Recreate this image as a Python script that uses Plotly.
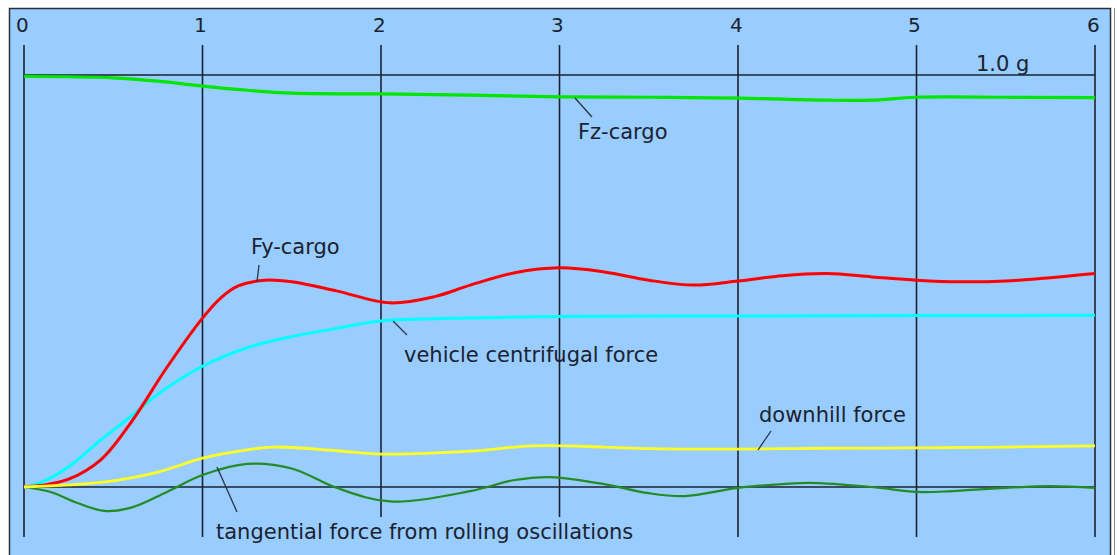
import plotly.graph_objects as go

# ---- data -------------------------------------------------------------
# time axis labels
tick_vals = [0, 1, 2, 3, 4, 5, 6]
tick_labels = ["0", "1", "2", "3", "4", "5", "6"]

# vertical cargo force Fz (g)
t_fz = [0, 0.5, 0.75, 1.0, 1.25, 1.5, 2.0, 2.5, 3.0, 3.5, 4.0, 4.5, 4.75, 5.0, 5.5, 6.0]
fz = [0.997, 0.993, 0.985, 0.973, 0.963, 0.956, 0.954, 0.951, 0.947, 0.946, 0.944,
      0.939, 0.939, 0.946, 0.946, 0.945]

# lateral cargo force Fy (g)
t_fy = [0, 0.1, 0.25, 0.43, 0.6, 0.8, 1.0, 1.1, 1.2, 1.35, 1.5, 1.75, 2.05, 2.3, 2.5,
        2.75, 3.0, 3.25, 3.5, 3.75, 4.0, 4.25, 4.5, 4.75, 5.0, 5.25, 5.5, 5.75, 6.0]
fy = [0, 0.004, 0.019, 0.066, 0.157, 0.29, 0.41, 0.458, 0.488, 0.502, 0.498, 0.476,
      0.447, 0.462, 0.49, 0.52, 0.532, 0.522, 0.502, 0.49, 0.5, 0.513, 0.518, 0.51,
      0.502, 0.498, 0.5, 0.508, 0.518]

# vehicle centrifugal force (g)
t_cf = [0, 0.1, 0.25, 0.43, 0.58, 0.75, 1.0, 1.25, 1.5, 1.75, 2.0, 2.5, 3.0, 4.0, 5.0, 6.0]
cf = [0, 0.012, 0.049, 0.114, 0.165, 0.225, 0.293, 0.338, 0.365, 0.385, 0.403, 0.41,
      0.414, 0.415, 0.416, 0.417]

# downhill force (g)
t_dh = [0, 0.25, 0.5, 0.75, 1.0, 1.25, 1.4, 1.75, 2.0, 2.5, 2.85, 3.25, 3.5, 4.0, 4.5,
        5.0, 5.5, 6.0]
dh = [0, 0.005, 0.015, 0.036, 0.07, 0.09, 0.097, 0.088, 0.08, 0.087, 0.1, 0.097, 0.093,
      0.092, 0.094, 0.095, 0.097, 0.1]

# tangential force from rolling oscillations (g)
t_tg = [0, 0.15, 0.3, 0.45, 0.6, 0.8, 1.0, 1.25, 1.5, 1.75, 2.05, 2.5, 2.75, 2.95, 3.25,
        3.5, 3.7, 4.0, 4.25, 4.4, 4.75, 5.0, 5.2, 5.5, 5.75, 6.0]
tg = [0, -0.012, -0.039, -0.058, -0.05, -0.012, 0.029, 0.056, 0.045, -0.002, -0.035,
      -0.01, 0.017, 0.024, 0.007, -0.015, -0.022, -0.002, 0.007, 0.01, 0, -0.012, -0.01,
      -0.002, 0.002, -0.002]

# ---- layout geometry (pixels) -----------------------------------------
W, H = 1117, 555
X0_PX, X_PER = 24.0, 178.5      # pixel of t=0, pixels per second
Y0_PX, Y_PER = 487.0, 412.0     # pixel of 0 g, pixels per g


def tx(px):
    return (px - X0_PX) / X_PER


def gy(py):
    return (Y0_PX - py) / Y_PER


BG = "#99CCFF"
INK = "#1b2230"
FONT = "DejaVu Sans"

fig = go.Figure()

series = [
    (t_fz, fz, "#00E600", 3.2, "Fz-cargo"),
    (t_cf, cf, "#00FFFF", 3.0, "vehicle centrifugal force"),
    (t_fy, fy, "#FF0000", 3.0, "Fy-cargo"),
    (t_tg, tg, "#228B22", 2.2, "tangential force"),
    (t_dh, dh, "#FFFF22", 2.8, "downhill force"),
]
for xs, ys, col, w, name in series:
    fig.add_trace(go.Scatter(x=xs, y=ys, mode="lines", name=name,
                             line=dict(color=col, width=w, shape="spline", smoothing=1.0),
                             hoverinfo="skip"))

shapes = []
# blue panel with frame
shapes.append(dict(type="rect", xref="paper", yref="paper", layer="below",
                   x0=9.5 / W, x1=1110.5 / W, y0=1 - 560 / H, y1=1 - 8.5 / H,
                   fillcolor=BG, line=dict(color="#2a2f38", width=1.5)))
shapes.append(dict(type="line", xref="paper", yref="paper", layer="below",
                   x0=1114.5 / W, x1=1114.5 / W, y0=1 - 8 / H, y1=0,
                   line=dict(color="#8a8f96", width=1)))

# vertical time lines (2 s and 3 s stop above the bottom caption)
for t in tick_vals:
    bottom = gy(517) if t in (2, 3) else gy(537)
    shapes.append(dict(type="line", xref="x", yref="y", layer="below",
                       x0=t, x1=t, y0=bottom, y1=gy(45),
                       line=dict(color=INK, width=1.6)))
# reference lines at 0 g and 1.0 g
for g in (0.0, 1.0):
    shapes.append(dict(type="line", xref="x", yref="y", layer="below",
                       x0=tick_vals[0], x1=tick_vals[-1], y0=g, y1=g,
                       line=dict(color=INK, width=1.6)))

# leader lines from the labels to their curves
leaders = [
    ((575, 98), (592, 117)),
    ((259, 265), (257, 282)),
    ((393, 321), (407, 335)),
    ((771, 431), (758, 450)),
    ((217, 467), (237, 512)),
]
for (ax_, ay_), (bx_, by_) in leaders:
    shapes.append(dict(type="line", xref="x", yref="y", layer="above",
                       x0=tx(ax_), y0=gy(ay_), x1=tx(bx_), y1=gy(by_),
                       line=dict(color="#2a3340", width=1.3)))

annotations = []
for t, lab in zip(tick_vals, tick_labels):
    annotations.append(dict(x=t, y=gy(25), xref="x", yref="y", text=lab,
                            showarrow=False, xanchor="center", yanchor="middle",
                            xshift=-2, font=dict(family=FONT, size=20, color=INK)))

labels = [
    ("1.0 g", 974, 64),
    ("Fz-cargo", 576, 132),
    ("Fy-cargo", 249, 247),
    ("vehicle centrifugal force", 402, 355),
    ("downhill force", 757, 415),
    ("tangential force from rolling oscillations", 214, 532),
]
for txt, px, py in labels:
    annotations.append(dict(x=tx(px), y=gy(py), xref="x", yref="y", text=txt,
                            showarrow=False, xanchor="left", yanchor="middle",
                            font=dict(family=FONT, size=21, color=INK)))

fig.update_layout(
    width=W, height=H,
    margin=dict(l=0, r=0, t=0, b=0),
    paper_bgcolor="white", plot_bgcolor="white",
    showlegend=False,
    xaxis=dict(range=[tx(0), tx(W)], visible=False, fixedrange=True),
    yaxis=dict(range=[gy(H), gy(0)], visible=False, fixedrange=True),
    shapes=shapes,
    annotations=annotations,
)

fig.write_html("out.html", config={"displayModeBar": False})
